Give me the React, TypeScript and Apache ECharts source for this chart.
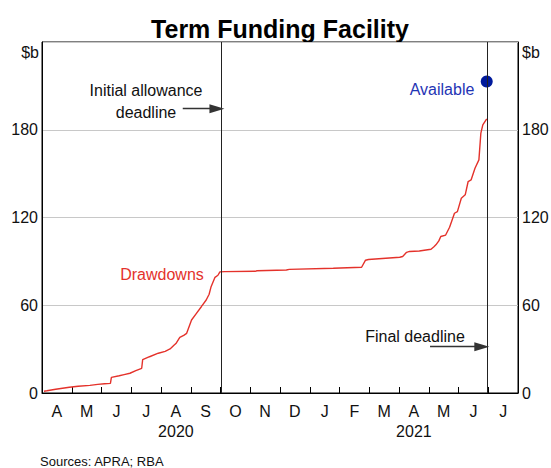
import React, { useEffect, useRef } from "react";
import * as echarts from "echarts";

const FONT = '"Liberation Sans", Arial, Helvetica, sans-serif';

const monthLabels = ["A", "M", "J", "J", "A", "S", "O", "N", "D", "J", "F", "M", "A", "M", "J", "J"];
const yearLabels = [
  { pos: 4.5, text: "2020" },
  { pos: 12.5, text: "2021" },
];
const yTicks = [0, 60, 120, 180];

const drawDates = [
  "2020-04-03", "2020-04-06", "2020-04-15", "2020-04-29", "2020-05-08", "2020-05-20", "2020-05-28",
  "2020-06-04", "2020-06-10", "2020-06-11", "2020-06-19", "2020-06-24", "2020-06-30", "2020-07-06",
  "2020-07-12", "2020-07-13", "2020-07-20", "2020-07-29", "2020-08-05", "2020-08-10", "2020-08-14",
  "2020-08-16", "2020-08-20", "2020-08-24", "2020-08-27", "2020-09-01", "2020-09-06", "2020-09-11",
  "2020-09-16", "2020-09-19", "2020-09-21", "2020-09-25", "2020-09-28", "2020-09-30", "2020-10-05",
  "2020-11-05", "2020-11-07", "2020-12-07", "2020-12-10", "2021-01-24", "2021-02-22", "2021-02-26",
  "2021-03-01", "2021-04-02", "2021-04-05", "2021-04-09", "2021-04-12", "2021-04-22", "2021-05-04",
  "2021-05-07", "2021-05-09", "2021-05-12", "2021-05-14", "2021-05-19", "2021-05-23", "2021-05-28",
  "2021-05-31", "2021-06-04", "2021-06-08", "2021-06-11", "2021-06-14", "2021-06-18", "2021-06-22",
  "2021-06-24", "2021-06-26", "2021-06-30",
];
const drawValues = [
  1.2, 1.5, 2.6, 3.9, 4.6, 5.2, 5.9,
  6.3, 6.6, 10.7, 11.8, 12.6, 13.5, 15.3,
  16.9, 22.8, 24.8, 27.2, 28.5, 30.1, 32.6,
  33.8, 38.1, 39.4, 40.8, 49.9, 54.5, 59,
  63.6, 67.5, 72.7, 79.1, 80.5, 82.8, 83,
  83.2, 83.6, 84.1, 84.5, 85.3, 86.0, 90.8,
  91.3, 92.8, 93.3, 96.2, 96.8, 97.1, 98.3,
  100, 101.3, 104, 107, 108, 113.3, 122.9,
  124, 133.2, 135.5, 144.6, 145.7, 153.7, 159.4,
  177.7, 183.3, 187.5,
];
const availableDate = "2021-06-30";
const availableValue = 213;
const deadlines = ["2020-10-01", "2021-07-01"];
const arrowInitial = [["2020-08-23", 194.4], ["2020-09-27", 194.4]];
const arrowFinal = [["2021-05-03", 31.7], ["2021-06-25", 31.7]];

const ARROW = "path://M5,0 L10,16 L0,16 Z";

export default function App() {
  const ref = useRef<HTMLDivElement>(null);
  useEffect(() => {
    if (!ref.current) return;
    const chart = echarts.init(ref.current, undefined, { renderer: "svg" });
    const txt = (text: string, x: number, y: number, opts: any = {}) => ({
      type: "text",
      x,
      y,
      silent: true,
      style: {
        text,
        fill: opts.fill || "#111",
        fontSize: opts.fontSize || 16,
        fontFamily: FONT,
        fontWeight: opts.fontWeight || "normal",
        align: opts.align || "center",
        verticalAlign: "middle",
      },
    });
    chart.setOption({
      animation: false,
      backgroundColor: "#fff",
      grid: {
        left: 42,
        right: 33,
        top: 42,
        bottom: 75,
        show: true,
        borderColor: "#000",
        borderWidth: 1,
        containLabel: false,
        outerBoundsMode: "none",
      },
      xAxis: [
        {
          type: "time",
          min: "2020-04-01",
          max: "2021-08-01",
          show: false,
        },
        {
          type: "category",
          data: monthLabels,
          position: "bottom",
          boundaryGap: true,
          axisLine: { show: true, lineStyle: { color: "#000", width: 1 } },
          axisTick: { show: true, inside: true, length: 6, alignWithLabel: false, lineStyle: { color: "#000" } },
          axisLabel: { color: "#111", fontSize: 16, fontFamily: FONT, margin: 10, interval: 0 },
          splitLine: { show: false },
        },
        {
          type: "value",
          min: 0,
          max: 16,
          interval: 0.5,
          position: "bottom",
          axisLine: { show: false },
          axisTick: { show: false },
          splitLine: { show: false },
          axisLabel: {
            color: "#111",
            fontSize: 16,
            fontFamily: FONT,
            margin: 30,
            showMinLabel: true,
            showMaxLabel: true,
            formatter: (v: number) => {
              const f = yearLabels.find((y) => Math.abs(y.pos - v) < 0.01);
              return f ? f.text : "";
            },
          },
        },
      ],
      yAxis: [
        {
          type: "value",
          min: 0,
          max: 240,
          interval: 60,
          position: "left",
          axisLine: { show: true, lineStyle: { color: "#000" } },
          axisTick: { show: false },
          splitLine: { show: true, lineStyle: { color: "#c8c8c8", width: 1 } },
          axisLabel: {
            color: "#111",
            fontSize: 16,
            fontFamily: FONT,
            margin: 4,
            formatter: (v: number) => (yTicks.includes(v) ? String(v) : ""),
          },
        },
        {
          type: "value",
          min: 0,
          max: 240,
          interval: 60,
          position: "right",
          axisLine: { show: true, lineStyle: { color: "#000" } },
          axisTick: { show: false },
          splitLine: { show: false },
          axisLabel: {
            color: "#111",
            fontSize: 16,
            fontFamily: FONT,
            margin: 4,
            formatter: (v: number) => (yTicks.includes(v) ? String(v) : ""),
          },
        },
      ],
      series: [
        {
          name: "Drawdowns",
          type: "line",
          xAxisIndex: 0,
          yAxisIndex: 0,
          data: drawDates.map((d, i) => [d, drawValues[i]]),
          showSymbol: false,
          symbol: "none",
          lineStyle: { color: "#e4322b", width: 1.4 },
          z: 3,
          markLine: {
            silent: true,
            symbol: ["none", "none"],
            label: { show: false },
            lineStyle: { color: "#222", width: 1, type: "solid" },
            data: deadlines.map((d) => ({ xAxis: d })),
          },
        },
        {
          name: "Arrows",
          type: "line",
          xAxisIndex: 0,
          yAxisIndex: 0,
          data: [],
          markLine: {
            silent: true,
            symbol: ["none", ARROW],
            symbolSize: [9, 15],
            label: { show: false },
            lineStyle: { color: "#333", width: 1.3, type: "solid" },
            itemStyle: { color: "#000" },
            data: [
              [{ coord: arrowInitial[0] }, { coord: arrowInitial[1] }],
              [{ coord: arrowFinal[0] }, { coord: arrowFinal[1] }],
            ],
          },
        },
        {
          name: "Available",
          type: "scatter",
          xAxisIndex: 0,
          yAxisIndex: 0,
          data: [[availableDate, availableValue]],
          symbol: "circle",
          symbolSize: 12,
          itemStyle: { color: "#001a9c", opacity: 1 },
          z: 4,
        },
      ],
      graphic: [
        txt("Term Funding Facility", 280, 29, { fontSize: 25, fontWeight: "bold", fill: "#000" }),
        txt("$b", 39, 52, { align: "right" }),
        txt("$b", 522, 52, { align: "left" }),
        txt("Initial allowance", 146, 90),
        txt("deadline", 146, 112),
        txt("Final deadline", 415, 336),
        txt("Drawdowns", 162, 274, { fill: "#e4322b" }),
        txt("Available", 442, 89, { fill: "#1f34b4" }),
        txt("Sources: APRA; RBA", 40, 461, { fontSize: 13, align: "left" }),
      ],
    });
    return () => chart.dispose();
  }, []);
  return (
    <div
      ref={ref}
      style={{ position: "absolute", left: 0, top: 0, width: 551, height: 468, background: "#fff" }}
    />
  );
}
